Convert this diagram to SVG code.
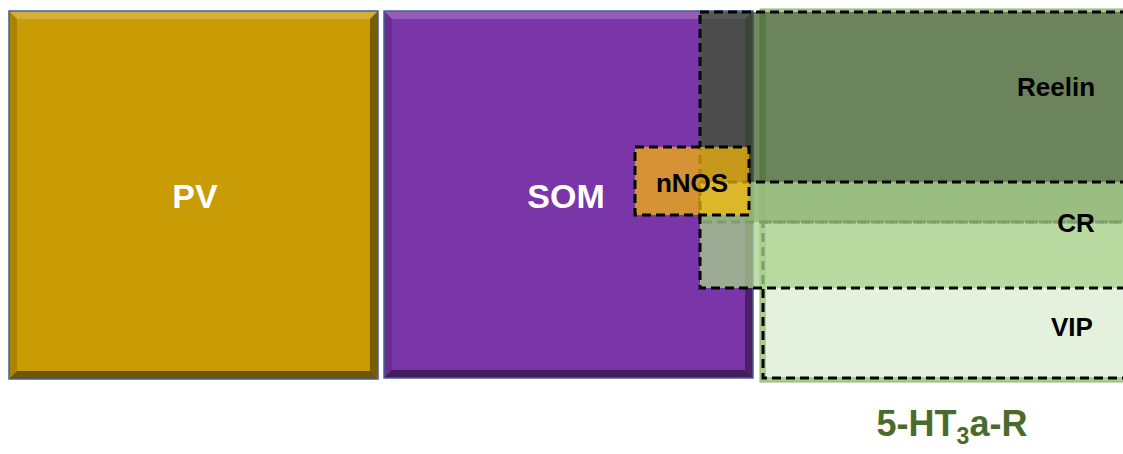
<svg xmlns="http://www.w3.org/2000/svg" width="1123" height="454" viewBox="0 0 1123 454">
<defs>
<style>
.lbl{font-family:"Liberation Sans",Arial,sans-serif;font-weight:bold;text-anchor:middle}
.big{font-size:34px;fill:#ffffff}
.small{font-size:26px;fill:#000000}
.btop{fill:#ffffff;fill-opacity:0.2}
.bleft{fill:#000000;fill-opacity:0.15}
.bright{fill:#000000;fill-opacity:0.4}
.bbot{fill:#000000;fill-opacity:0.45}
.frame{fill:none;stroke:#44609A;stroke-width:1.5}
.dash{stroke:#000000;stroke-width:3;stroke-dasharray:9 5}
</style>
</defs>
<rect width="1123" height="454" fill="#ffffff"/>

<g id="PV">
<rect x="9" y="11" width="369" height="368" fill="#C99B05"/>
<polygon class="btop" points="9,11 378,11 370,19 17,19"/>
<polygon class="bleft" points="9,11 17,19 17,371 9,379"/>
<polygon class="bright" points="378,11 378,379 370,371 370,19"/>
<polygon class="bbot" points="9,379 378,379 370,371 17,371"/>
<rect class="frame" x="9" y="11" width="369" height="368"/>
<text class="lbl big" x="195" y="208">PV</text>
</g>

<g id="SOM">
<rect x="384" y="11" width="369" height="367" fill="#7A36A8"/>
<polygon class="btop" points="384,11 753,11 745,19 392,19"/>
<polygon class="bleft" points="384,11 392,19 392,370 384,378"/>
<polygon class="bright" points="753,11 753,378 745,370 745,19"/>
<polygon class="bbot" points="384,378 753,378 745,370 392,370"/>
<rect class="frame" x="384" y="11" width="369" height="367"/>
<text class="lbl big" x="566" y="208">SOM</text>
</g>

<g id="HT3aR">
<rect x="760" y="9" width="400" height="373" fill="#A9D18E" stroke="#8DB473" stroke-width="1"/>
<rect x="766" y="13" width="400" height="364" fill="#E4F1DC"/>
<text class="lbl" x="952" y="436" font-size="36" fill="#4B6B2C">5-HT<tspan font-size="23" dy="8">3</tspan><tspan dy="-8">a-R</tspan></text>
</g>

<g id="Reelin">
<rect class="dash" x="700" y="12" width="440" height="210" fill="#375623" fill-opacity="0.7"/>
<text class="lbl small" x="1056" y="96">Reelin</text>
</g>

<g id="VIP">
<rect class="dash" x="763" y="222" width="400" height="156" fill="none"/>
<text class="lbl small" x="1072" y="336">VIP</text>
</g>

<g id="CR">
<rect class="dash" x="700" y="182" width="440" height="106" fill="#A9D18E" fill-opacity="0.75"/>
<text class="lbl small" x="1076" y="232">CR</text>
</g>

<g id="nNOS">
<rect class="dash" x="635" y="147" width="114" height="68" fill="#FCBA05" fill-opacity="0.7"/>
<text class="lbl small" x="692" y="192">nNOS</text>
</g>

<g id="connectors"></g>
</svg>
